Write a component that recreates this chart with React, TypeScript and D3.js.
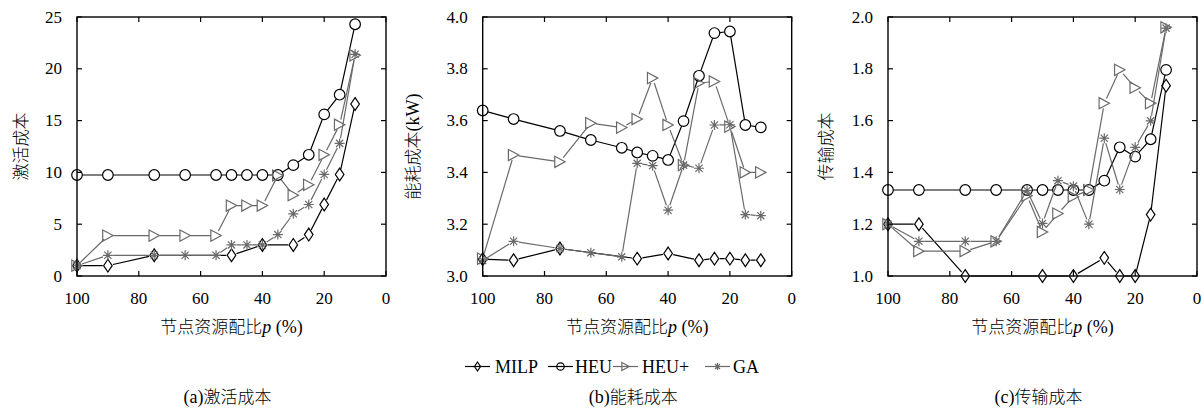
import React from "react";
import * as d3 from "d3";

// x positions (node resource ratio p, %)
const pAll = [100, 90, 75, 65, 55, 50, 45, 40, 35, 30, 25, 20, 15, 10];
const pMilp = [100, 90, 75, 50, 40, 30, 25, 20, 15, 10];
const xTicks = [100, 80, 60, 40, 20, 0];

// (a) activation cost
const actMilp = [1, 1, 2, 2, 3, 3, 4, 6.9, 9.8, 16.6];
const actHeu = [9.75, 9.75, 9.75, 9.75, 9.75, 9.75, 9.75, 9.75, 9.75, 10.7, 11.7, 15.6, 17.5, 24.3];
const actHeuPlus = [1, 3.9, 3.9, 3.9, 3.9, 6.8, 6.8, 6.8, 9.7, 7.8, 8.8, 11.7, 14.6, 21.3];
const actGa = [1, 2, 2, 2, 2, 3, 3, 3, 4, 6, 6.9, 9.8, 12.8, 21.4];

// (b) energy cost (kW)
const engMilp = [3.065, 3.061, 3.106, 3.067, 3.087, 3.061, 3.067, 3.067, 3.061, 3.061];
const engHeu = [3.639, 3.606, 3.56, 3.525, 3.495, 3.477, 3.464, 3.448, 3.598, 3.773, 3.938, 3.944, 3.583, 3.574];
const engHeuPlus = [3.067, 3.467, 3.441, 3.59, 3.573, 3.606, 3.764, 3.583, 3.428, 3.745, 3.751, 3.577, 3.4, 3.4];
const engGa = [3.06, 3.134, 3.106, 3.09, 3.074, 3.435, 3.426, 3.254, 3.428, 3.416, 3.583, 3.584, 3.237, 3.233];

// (c) transmission cost
const trMilp = [1.2, 1.2, 1.0, 1.0, 1.0, 1.07, 1.0, 1.0, 1.237, 1.735];
const trHeu = [1.332, 1.332, 1.332, 1.332, 1.332, 1.332, 1.332, 1.332, 1.332, 1.368, 1.497, 1.461, 1.528, 1.796];
const trHeuPlus = [1.2, 1.096, 1.096, 1.134, 1.31, 1.17, 1.241, 1.306, 1.332, 1.667, 1.796, 1.727, 1.667, 1.96];
const trGa = [1.2, 1.134, 1.134, 1.134, 1.33, 1.203, 1.368, 1.347, 1.2, 1.532, 1.334, 1.497, 1.599, 1.957];

const seriesNames = ["MILP", "HEU", "HEU+", "GA"];

const BLACK = "#000";
const GRAY = "#6a6a6a";
const LATIN = "Liberation Serif, Times New Roman, serif";
const CJK = "Noto Sans CJK SC, sans-serif";

const styles: Record<string, { color: string; marker: string }> = {
  MILP: { color: BLACK, marker: "diamond" },
  HEU: { color: BLACK, marker: "circle" },
  "HEU+": { color: GRAY, marker: "triangle" },
  GA: { color: GRAY, marker: "star" },
};

const panels = [
  {
    left: 77, yDomain: [0, 25], yTicks: [0, 5, 10, 15, 20, 25], fmt: d3.format("d"),
    yLabel: ["激活成本", ""], yLabelOff: 56, caption: ["(a)", "激活成本"],
    data: { MILP: actMilp, HEU: actHeu, "HEU+": actHeuPlus, GA: actGa },
  },
  {
    left: 482.7, yDomain: [3, 4], yTicks: [3, 3.2, 3.4, 3.6, 3.8, 4], fmt: d3.format(".1f"),
    yLabel: ["能耗成本", "(kW)"], yLabelOff: 70, caption: ["(b)", "能耗成本"],
    data: { MILP: engMilp, HEU: engHeu, "HEU+": engHeuPlus, GA: engGa },
  },
  {
    left: 888, yDomain: [1, 2], yTicks: [1, 1.2, 1.4, 1.6, 1.8, 2], fmt: d3.format(".1f"),
    yLabel: ["传输成本", ""], yLabelOff: 62, caption: ["(c)", "传输成本"],
    data: { MILP: trMilp, HEU: trHeu, "HEU+": trHeuPlus, GA: trGa },
  },
];

const W = 309;
const TOP = 17;
const BOTTOM = 276;

function Marker({ type, x, y, color, s = 1 }: any) {
  const sw = 1.2;
  if (type === "circle")
    return <circle cx={x} cy={y} r={5.3 * s} fill="none" stroke={color} strokeWidth={sw} />;
  if (type === "diamond") {
    const w = 4.3 * s, h = 6.4 * s;
    return <path d={`M${x},${y - h}L${x + w},${y}L${x},${y + h}L${x - w},${y}Z`} fill="none" stroke={color} strokeWidth={sw} />;
  }
  if (type === "triangle") {
    const w = 5.2 * s, h = 5.6 * s;
    return <path d={`M${x - w},${y - h}L${x + w},${y}L${x - w},${y + h}Z`} fill="none" stroke={color} strokeWidth={sw} />;
  }
  const r = 5 * s, d = r * 0.72;
  return (
    <path
      d={`M${x - r},${y}L${x + r},${y}M${x},${y - r}L${x},${y + r}M${x - d},${y - d}L${x + d},${y + d}M${x - d},${y + d}L${x + d},${y - d}`}
      stroke={color} strokeWidth={sw} fill="none"
    />
  );
}

// segments between points, trimmed so the line stops at the marker edge
function gapPath(pts: [number, number][], gap: number) {
  let d = "";
  for (let i = 0; i < pts.length - 1; i++) {
    const [x1, y1] = pts[i];
    const [x2, y2] = pts[i + 1];
    const len = Math.hypot(x2 - x1, y2 - y1);
    if (len <= gap * 2) continue;
    const ux = (x2 - x1) / len, uy = (y2 - y1) / len;
    d += `M${x1 + ux * gap},${y1 + uy * gap}L${x2 - ux * gap},${y2 - uy * gap}`;
  }
  return d;
}

function Panel({ cfg }: any) {
  const x = d3.scaleLinear().domain([100, 0]).range([cfg.left, cfg.left + W]);
  const y = d3.scaleLinear().domain(cfg.yDomain).range([BOTTOM, TOP]);
  const cx = cfg.left + W / 2;
  const cy = (TOP + BOTTOM) / 2;
  const tick = 5;
  return (
    <g>
      {seriesNames.map((name) => {
        const vals: number[] = cfg.data[name];
        const xs = name === "MILP" ? pMilp : pAll;
        const pts: [number, number][] = vals.map((v, i) => [x(xs[i]), y(v)]);
        const st = styles[name];
        return (
          <g key={name}>
            <path d={gapPath(pts, 5.2)} stroke={st.color} strokeWidth={1.2} fill="none" />
            {pts.map(([px, py], i) => (
              <Marker key={i} type={st.marker} x={px} y={py} color={st.color} />
            ))}
          </g>
        );
      })}
      <rect x={cfg.left} y={TOP} width={W} height={BOTTOM - TOP} fill="none" stroke="#000" strokeWidth={1.4} />
      {xTicks.map((t) => (
        <g key={"x" + t}>
          <line x1={x(t)} x2={x(t)} y1={BOTTOM} y2={BOTTOM - tick} stroke="#000" strokeWidth={1.2} />
          <line x1={x(t)} x2={x(t)} y1={TOP} y2={TOP + tick} stroke="#000" strokeWidth={1.2} />
          <text x={x(t)} y={304} textAnchor="middle" fontSize={17} fontFamily={LATIN}>{t}</text>
        </g>
      ))}
      {cfg.yTicks.map((t: number) => (
        <g key={"y" + t}>
          <line x1={cfg.left} x2={cfg.left + tick} y1={y(t)} y2={y(t)} stroke="#000" strokeWidth={1.2} />
          <line x1={cfg.left + W} x2={cfg.left + W - tick} y1={y(t)} y2={y(t)} stroke="#000" strokeWidth={1.2} />
          <text x={cfg.left - 15} y={y(t)} dy="0.33em" textAnchor="end" fontSize={17} fontFamily={LATIN}>{cfg.fmt(t)}</text>
        </g>
      ))}
      <text x={cx} y={333} textAnchor="middle" fontSize={17}>
        <tspan fontFamily={CJK} fontWeight={300}>节点资源配比</tspan>
        <tspan fontFamily={LATIN} fontStyle="italic" fontSize={18}>p</tspan>
        <tspan fontFamily={LATIN} fontSize={18}> (%)</tspan>
      </text>
      <text transform={`translate(${cfg.left - cfg.yLabelOff},${cy}) rotate(-90)`} textAnchor="middle" dy="0.35em" fontSize={17}>
        <tspan fontFamily={CJK} fontWeight={300}>{cfg.yLabel[0]}</tspan>
        {cfg.yLabel[1] && <tspan fontFamily={LATIN} fontSize={18}>{cfg.yLabel[1]}</tspan>}
      </text>
      <text x={cx - 4} y={403} textAnchor="middle" fontSize={17}>
        <tspan fontFamily={LATIN} fontSize={18}>{cfg.caption[0]}</tspan>
        <tspan fontFamily={CJK} fontWeight={300}>{cfg.caption[1]}</tspan>
      </text>
    </g>
  );
}

const legendPos = [
  { line: 465, text: 495 },
  { line: 548, text: 575 },
  { line: 613, text: 642 },
  { line: 705, text: 733 },
];

export default function App() {
  const ly = 366.5;
  return (
    <svg width={1204} height={410} style={{ position: "absolute", left: 0, top: 0, background: "#fff" }}>
      <rect width={1204} height={410} fill="#fff" />
      {panels.map((p, i) => <Panel key={i} cfg={p} />)}
      {seriesNames.map((name, i) => {
        const st = styles[name];
        const lp = legendPos[i];
        return (
          <g key={name}>
            <line x1={lp.line} x2={lp.line + 25} y1={ly} y2={ly} stroke={st.color} strokeWidth={1.2} />
            <Marker type={st.marker} x={lp.line + 12.5} y={ly} color={st.color} s={0.7} />
            <text x={lp.text} y={ly} dy="0.35em" fontSize={18} fontFamily={LATIN}>{name}</text>
          </g>
        );
      })}
    </svg>
  );
}
